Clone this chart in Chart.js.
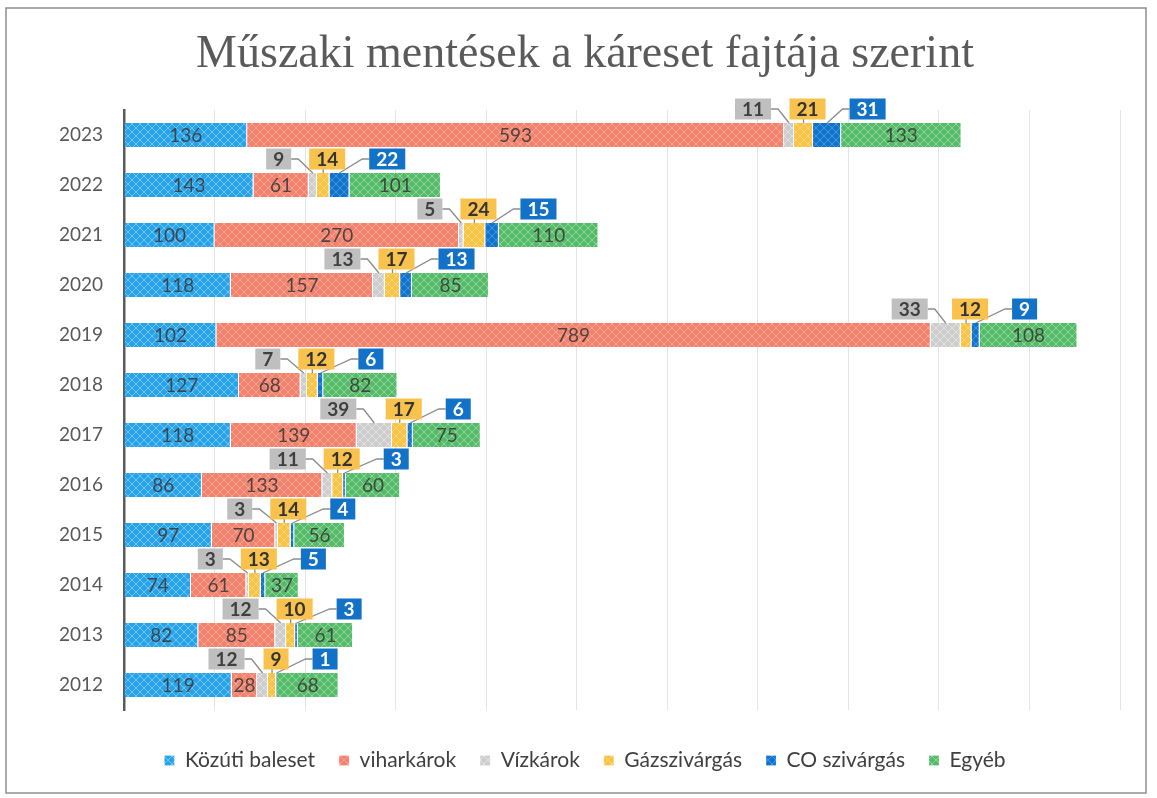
<!DOCTYPE html>
<html>
<head>
<meta charset="utf-8">
<script src="https://cdn.jsdelivr.net/npm/chart.js@4.4.0/dist/chart.umd.min.js"></script>
<style>
  html, body { margin: 0; padding: 0; background: #fff; }
  #wrap { width: 1157px; height: 798px; }
</style>
</head>
<body>
<div id="wrap"><canvas id="chart" width="1157" height="798"></canvas></div>
<script>
// adatok (felülről lefelé)
const years = ['2023', '2022', '2021', '2020', '2019', '2018', '2017', '2016', '2015', '2014', '2013', '2012'];
const kozuti = [136, 143, 100, 118, 102, 127, 118, 86, 97, 74, 82, 119];
const vihar = [593, 61, 270, 157, 789, 68, 139, 133, 70, 61, 85, 28];
const viz = [11, 9, 5, 13, 33, 7, 39, 11, 3, 3, 12, 12];
const gaz = [21, 14, 24, 17, 12, 12, 17, 12, 14, 13, 10, 9];
const co = [31, 22, 15, 13, 9, 6, 6, 3, 4, 5, 3, 1];
const egyeb = [133, 101, 110, 85, 108, 82, 75, 60, 56, 37, 61, 68];
const seriesNames = ['Közúti baleset', 'viharkárok', 'Vízkárok', 'Gázszivárgás', 'CO szivárgás', 'Egyéb'];
const xMax = 1100;

// mintás kitöltés (kis rács)
function hatch(base, light) {
  const c = document.createElement('canvas');
  c.width = 8; c.height = 8;
  const g = c.getContext('2d');
  g.fillStyle = base;
  g.fillRect(0, 0, 8, 8);
  g.strokeStyle = light;
  g.lineWidth = 1;
  g.beginPath();
  g.moveTo(0, 0); g.lineTo(8, 8);
  g.moveTo(8, 0); g.lineTo(0, 8);
  g.stroke();
  return g.createPattern(c, 'repeat');
}

const fills = [
  hatch('#27a3ea', 'rgba(190,230,255,0.5)'),
  hatch('#f2826d', 'rgba(255,215,205,0.4)'),
  hatch('#cdcdcd', 'rgba(240,240,240,0.6)'),
  hatch('#f9c444', 'rgba(255,235,180,0.5)'),
  hatch('#1074cc', 'rgba(120,180,240,0.5)'),
  hatch('#55bb68', 'rgba(200,240,205,0.5)')
];
const boxColors = { 2: '#bfbfbf', 3: '#f8c24d', 4: '#1272c8' };
const boxText = { 2: '#404040', 3: '#333333', 4: '#ffffff' };

const frame = {
  id: 'frame',
  beforeDraw(chart) {
    const ctx = chart.ctx;
    ctx.save();
    ctx.fillStyle = '#fff';
    ctx.fillRect(0, 0, chart.width, chart.height);
    ctx.strokeStyle = '#8f8f8f';
    ctx.lineWidth = 1.5;
    ctx.strokeRect(6, 8, 1140, 785);
    ctx.restore();
  }
};

function seg(chart, ds, i) {
  const el = chart.getDatasetMeta(ds).data[i];
  const p = el.getProps(['x', 'y', 'base', 'height'], true);
  return { c: (p.x + p.base) / 2, y: p.y, top: p.y - p.height / 2 };
}

function box(ctx, ds, val, left, cy) {
  const t = String(val);
  const w = ctx.measureText(t).width + 14;
  const h = 21;
  ctx.fillStyle = boxColors[ds];
  ctx.fillRect(left, cy - h / 2, w, h);
  ctx.fillStyle = boxText[ds];
  ctx.fillText(t, left + w / 2, cy + 1);
}

const labels = {
  id: 'labels',
  afterDatasetsDraw(chart) {
    const ctx = chart.ctx;
    ctx.save();
    ctx.textAlign = 'center';
    ctx.textBaseline = 'middle';
    // értékek a sávokon belül
    ctx.font = '19px Lato';
    ctx.fillStyle = 'rgba(60,60,60,0.9)';
    [0, 1, 5].forEach(ds => {
      chart.data.datasets[ds].data.forEach((v, i) => {
        const s = seg(chart, ds, i);
        ctx.fillText(String(v), s.c, s.y + 1);
      });
    });
    // kiemelt címkék a kis szegmensekhez
    ctx.font = 'bold 19px Lato';
    years.forEach((yr, i) => {
      const g = seg(chart, 2, i), y = seg(chart, 3, i), b = seg(chart, 4, i);
      const cy = g.y - 26;
      const wy = ctx.measureText(String(gaz[i])).width + 14;
      const wg = ctx.measureText(String(viz[i])).width + 14;
      const yl = y.c - wy / 2 + 4;
      const gl = Math.min(g.c - 18, yl - 18) - wg;
      const bl = Math.max(b.c + 18, yl + wy + 24);

      ctx.strokeStyle = '#8c8c8c';
      ctx.lineWidth = 1.3;
      ctx.beginPath();
      ctx.moveTo(gl + wg, cy); ctx.lineTo(gl + wg + 7, cy); ctx.lineTo(g.c, g.top);
      ctx.moveTo(y.c, cy + 10); ctx.lineTo(y.c, y.top);
      ctx.moveTo(bl, cy); ctx.lineTo(bl - 7, cy); ctx.lineTo(b.c, b.top);
      ctx.stroke();

      box(ctx, 2, viz[i], gl, cy);
      box(ctx, 3, gaz[i], yl, cy);
      box(ctx, 4, co[i], bl, cy);
    });
    ctx.restore();
  }
};

const values = [kozuti, vihar, viz, gaz, co, egyeb];

new Chart(document.getElementById('chart'), {
  type: 'bar',
  data: {
    labels: years,
    datasets: seriesNames.map((name, k) => ({
      label: name,
      data: values[k],
      backgroundColor: fills[k],
      borderColor: '#ffffff',
      borderWidth: { left: 0, right: 1, top: 0, bottom: 0 },
      borderSkipped: false,
      barPercentage: 0.48,
      categoryPercentage: 1
    }))
  },
  options: {
    indexAxis: 'y',
    responsive: false,
    animation: false,
    layout: { padding: { left: 50, right: 37, top: 0, bottom: 17 } },
    scales: {
      x: {
        stacked: true,
        min: 0,
        max: xMax,
        ticks: { display: false, stepSize: 100 },
        grid: { color: '#e4e4e4', drawTicks: false },
        border: { display: false },
        afterFit: s => { s.height = 16; }
      },
      y: {
        stacked: true,
        ticks: { color: '#595959', font: { family: 'Lato', size: 19 }, padding: 21 },
        grid: { display: false, drawTicks: false },
        border: { display: true, color: '#5a5a5a', width: 2.5 },
        afterFit: s => { s.width = 74; }
      }
    },
    plugins: {
      title: {
        display: true,
        text: 'Műszaki mentések a káreset fajtája szerint',
        color: '#5a5a5a',
        font: { family: 'Liberation Serif', size: 46, weight: 'normal', lineHeight: 1.2 },
        padding: { top: 27, bottom: 27.8 }
      },
      legend: {
        position: 'bottom',
        labels: {
          color: '#404040',
          font: { family: 'Lato', size: 21 },
          boxWidth: 10,
          boxHeight: 10,
          padding: 24
        }
      },
      tooltip: { enabled: false }
    }
  },
  plugins: [frame, labels]
});
</script>
</body>
</html>
